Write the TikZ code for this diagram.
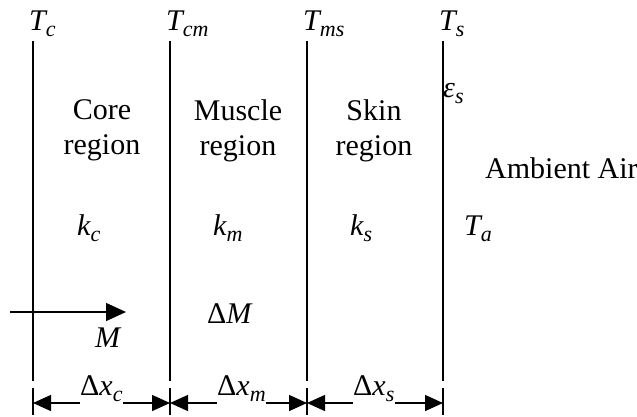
\documentclass[tikz,border=0pt]{standalone}
\usepackage{fontspec}
\setmainfont{Liberation Serif}
\usetikzlibrary{arrows.meta}
\newcommand\sbs[1]{\raisebox{-6pt}{\fontsize{22}{22}\selectfont\itshape #1}}
\newcommand\mv[1]{{\fontsize{30}{30}\selectfont\itshape #1}}
\begin{document}
\begin{tikzpicture}[x=1pt,y=-1pt,
  wall/.style={line width=1.6pt},
  lbl/.style={inner sep=0pt,font=\fontsize{30}{35}\selectfont},
  dim/.style={line width=1.4pt,-{Triangle[length=18pt,width=16pt]}},
  tick/.style={line width=1.4pt}]
\useasboundingbox (0,0) rectangle (637,416);
% walls
\foreach \n/\x in {a/33,b/170,c/307,d/443}{
  \coordinate (\n t) at (\x,41);
  \coordinate (\n b) at (\x,381);
  \coordinate (\n u) at (\x,388);
  \coordinate (\n l) at (\x,415);
  \coordinate (\n d) at (\x,403);
  \draw[wall] (\n t) -- (\n b);
  \draw[tick] (\n u) -- (\n l);
}
% top labels
\node[lbl,anchor=base west] (Tc) at (29,30) {\mv{T}\sbs{c}};
\node[lbl,anchor=base west] (Tcm) at (166,30) {\mv{T}\sbs{cm}};
\node[lbl,anchor=base west] (Tms) at (303,30) {\mv{T}\sbs{ms}};
\node[lbl,anchor=base west] (Ts) at (439,30) {\mv{T}\sbs{s}};
% region labels
\node[lbl,align=center] (core) at (102,130.5) {Core\\region};
\node[lbl,align=center] (muscle) at (238,130.5) {Muscle\\region};
\node[lbl,align=center] (skin) at (374,130.5) {Skin\\region};
\node[lbl,anchor=base west] (eps) at (443,97) {\mv{ε}\sbs{s}};
\node[lbl,anchor=base west] (air) at (485,178) {Ambient Air};
% conductivities
\node[lbl,anchor=base west] (kc) at (77,235) {\mv{k}\sbs{c}};
\node[lbl,anchor=base west] (km) at (213,235) {\mv{k}\sbs{m}};
\node[lbl,anchor=base west] (ks) at (350,235) {\mv{k}\sbs{s}};
\node[lbl,anchor=base west] (Ta) at (464,235) {\mv{T}\sbs{a}};
% metabolism
\coordinate (ms) at (10,312);
\coordinate (me) at (126,312);
\draw[line width=1.4pt,-{Triangle[length=20pt,width=18pt]}] (ms) -- (me);
\node[lbl,anchor=base west] (M) at (95,347) {\mv{M}};
\node[lbl,anchor=base west] (dM) at (207,323) {Δ\mv{M}};
% dimensions
\node[lbl,anchor=base west] (dxc) at (80,395) {Δ\mv{x}\sbs{c}};
\node[lbl,anchor=base west] (dxm) at (217,395) {Δ\mv{x}\sbs{m}};
\node[lbl,anchor=base west] (dxs) at (353,395) {Δ\mv{x}\sbs{s}};
\draw[dim] (dxc.west |- ad) -- (ad);
\draw[dim] (dxc.east |- ad) -- (bd);
\draw[dim] (dxm.west |- ad) -- (bd);
\draw[dim] (dxm.east |- ad) -- (cd);
\draw[dim] (dxs.west |- ad) -- (cd);
\draw[dim] (dxs.east |- ad) -- (dd);
\end{tikzpicture}
\end{document}
